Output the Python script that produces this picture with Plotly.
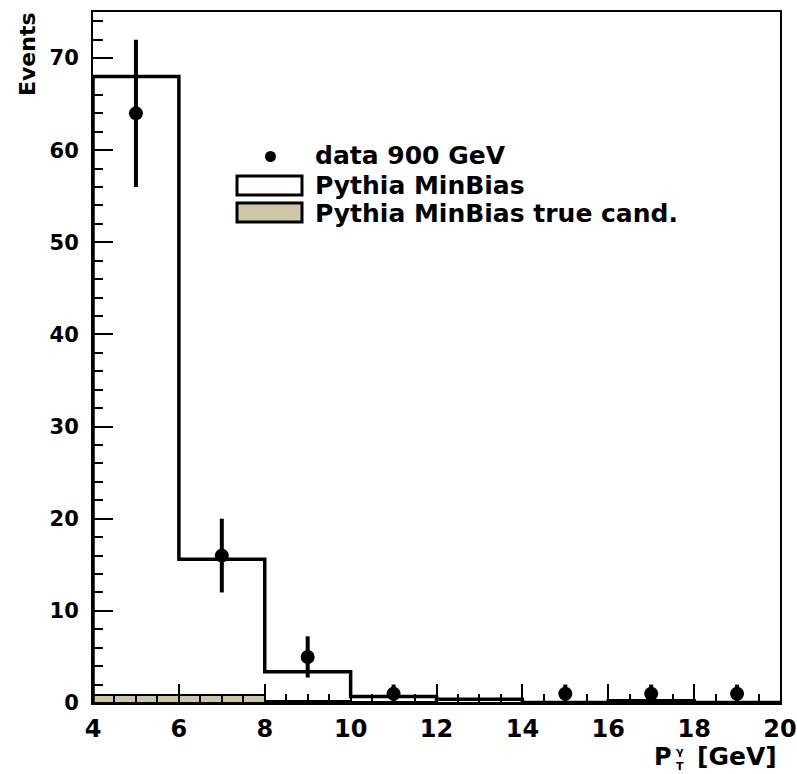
import plotly.graph_objects as go

# Bin edges (GeV) and histogram contents
bin_edges = [4, 6, 8, 10, 12, 14, 16, 18, 20]
minbias_counts = [68.0, 15.6, 3.4, 0.7, 0.4, 0.05, 0.25, 0.05]
truecand_counts = [0.9, 0.9, 0.2, 0.15, 0.05, 0.0, 0.0, 0.0]

# Data points at 900 GeV
data_x = [5, 7, 9, 11, 15, 17, 19]
data_y = [64, 16, 5, 1, 1, 1, 1]
data_err = [8.0, 4.0, 2.24, 1.0, 1.0, 1.0, 1.0]

legend_labels = ["data 900 GeV", "Pythia MinBias", "Pythia MinBias true cand."]

TAN = "#CDC7A5"
FONT = "DejaVu Sans"

centers = [(a + b) / 2 for a, b in zip(bin_edges[:-1], bin_edges[1:])]
widths = [b - a for a, b in zip(bin_edges[:-1], bin_edges[1:])]

fig = go.Figure()

# filled "true candidate" histogram
fig.add_trace(go.Bar(
    x=centers, y=truecand_counts, width=widths,
    marker=dict(color=TAN, line=dict(color="black", width=2)),
    showlegend=False,
))

# MinBias histogram outline
step_x = [bin_edges[0]] + bin_edges
step_y = [0] + minbias_counts + [minbias_counts[-1]]
fig.add_trace(go.Scatter(
    x=step_x, y=step_y, mode="lines", line_shape="hv",
    line=dict(color="black", width=3.5), showlegend=False,
))

# data with statistical errors
fig.add_trace(go.Scatter(
    x=data_x, y=data_y, mode="markers",
    marker=dict(color="black", size=14, symbol="circle"),
    error_y=dict(type="data", array=data_err, color="black", thickness=4, width=0),
    showlegend=False,
))

L, R, T, B = 93, 780, 12, 703
W, H = 797, 774


def px(x):
    return (x - L) / (R - L)


def py(y):
    return (B - y) / (B - T)


def bold(size):
    return dict(family=FONT, size=size, color="black", weight="bold")


shapes = []
annotations = []

# legend
shapes.append(dict(type="circle", xref="paper", yref="paper",
                   x0=px(265), x1=px(276), y0=py(162), y1=py(151),
                   fillcolor="black", line=dict(color="black", width=0)))
shapes.append(dict(type="rect", xref="paper", yref="paper",
                   x0=px(237), x1=px(302), y0=py(195), y1=py(176),
                   fillcolor="white", line=dict(color="black", width=3)))
shapes.append(dict(type="rect", xref="paper", yref="paper",
                   x0=px(237), x1=px(302), y0=py(222), y1=py(203),
                   fillcolor=TAN, line=dict(color="black", width=3)))
for label, yc in zip(legend_labels, [156, 185, 213]):
    annotations.append(dict(text=label, xref="paper", yref="paper",
                            x=px(314), y=py(yc), xanchor="left", yanchor="middle",
                            showarrow=False, borderpad=0, font=bold(25)))

# axis titles
annotations.append(dict(text="Events", xref="paper", yref="paper",
                        x=px(28), y=py(10), xanchor="center", yanchor="top",
                        textangle=-90, showarrow=False, font=bold(22)))
annotations.append(dict(text="P", xref="paper", yref="paper",
                        x=px(673), y=py(772), xanchor="right", yanchor="bottom",
                        showarrow=False, borderpad=0, font=bold(24)))
annotations.append(dict(text="γ", xref="paper", yref="paper",
                        x=px(680), y=py(759), xanchor="center", yanchor="bottom",
                        showarrow=False, borderpad=0, font=bold(11)))
annotations.append(dict(text="T", xref="paper", yref="paper",
                        x=px(680), y=py(774), xanchor="center", yanchor="bottom",
                        showarrow=False, borderpad=0, font=bold(11)))
annotations.append(dict(text="[GeV]", xref="paper", yref="paper",
                        x=px(778), y=py(772), xanchor="right", yanchor="bottom",
                        showarrow=False, borderpad=0, font=bold(25)))

fig.update_layout(
    width=W, height=H,
    margin=dict(l=L, r=W - R, t=T, b=H - B, pad=0, autoexpand=False),
    paper_bgcolor="white", plot_bgcolor="white",
    shapes=shapes, annotations=annotations,
    barmode="overlay", bargap=0,
    xaxis=dict(range=[4, 20], tick0=4, dtick=2, ticks="inside", ticklen=19,
               tickwidth=2, tickcolor="black", tickfont=bold(24),
               ticklabeloverflow="allow", automargin=False,
               showgrid=False, zeroline=False, showline=True, linecolor="black",
               linewidth=2, mirror=True, ticklabelstandoff=3,
               minor=dict(dtick=0.5, ticks="inside", ticklen=9, tickwidth=2,
                          tickcolor="black", showgrid=False)),
    yaxis=dict(range=[0, 75], tick0=0, dtick=10, ticks="inside", ticklen=20,
               tickwidth=2, tickcolor="black", tickfont=bold(21),
               automargin=False,
               showgrid=False, zeroline=False, showline=True, linecolor="black",
               linewidth=2, mirror=True, ticklabelstandoff=8,
               minor=dict(dtick=2, ticks="inside", ticklen=10, tickwidth=2,
                          tickcolor="black", showgrid=False)),
)

fig.write_html("out.html")
